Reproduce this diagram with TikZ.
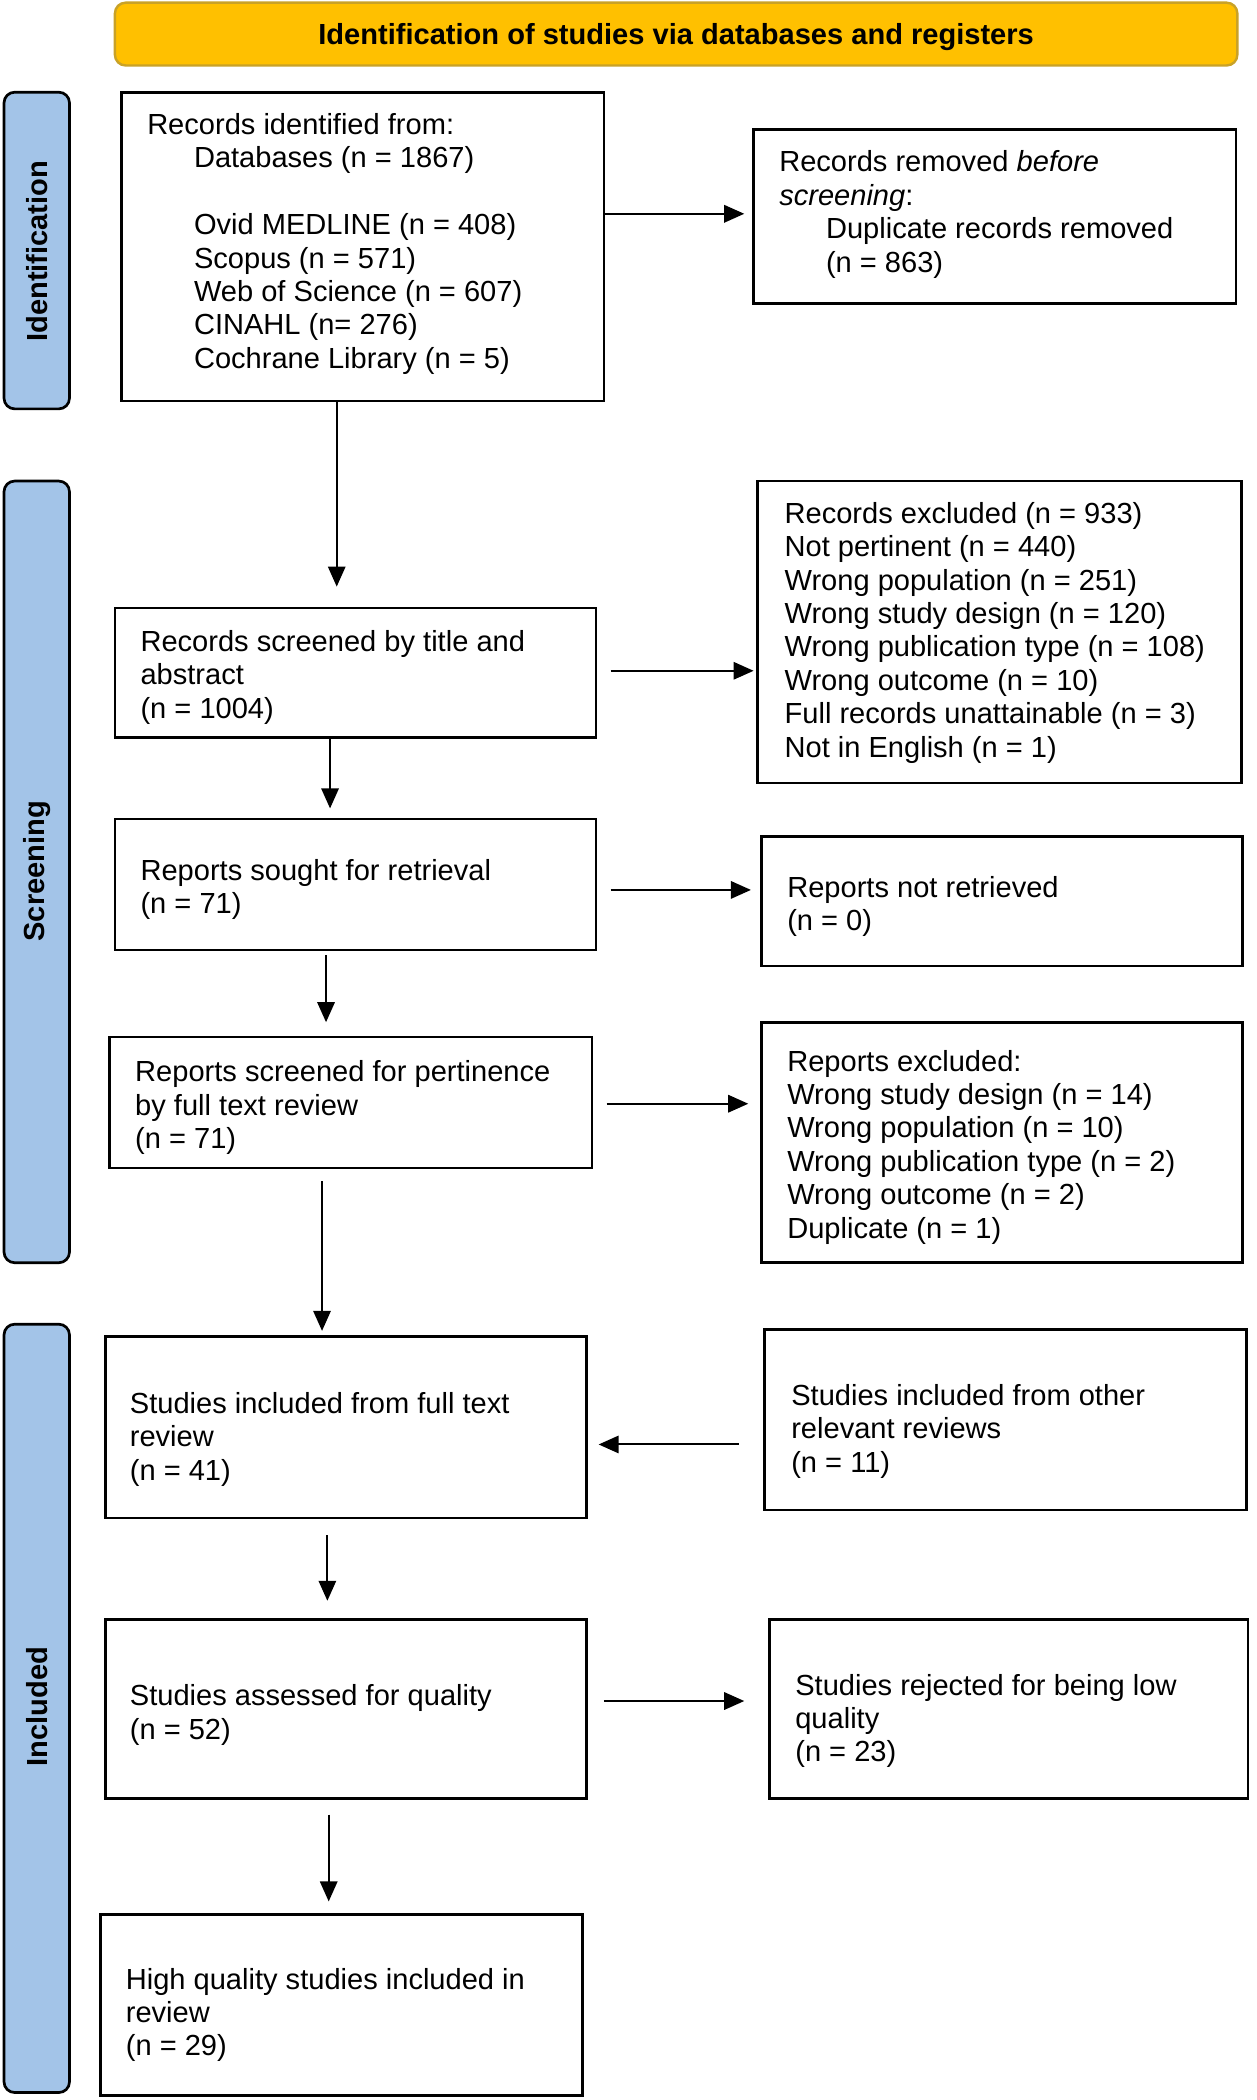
\documentclass[tikz,border=0pt]{standalone}
\usepackage{fontspec}
\setmainfont{Liberation Sans}
\usetikzlibrary{arrows.meta}
\definecolor{gold}{HTML}{FFC000}
\definecolor{golddark}{HTML}{C9A227}
\definecolor{sideblue}{HTML}{A3C4E8}
\begin{document}
\begin{tikzpicture}[x=1pt,y=-1pt,
  box/.style={draw=black, line width=2pt, fill=white, inner sep=0pt},
  txt/.style={inner sep=0pt, anchor=west, align=left, font=\fontsize{21.75}{25}\selectfont},
  side/.style={draw=black, line width=2pt, fill=sideblue, rounded corners=8pt, inner sep=0pt, minimum width=49pt},
  sidetxt/.style={rotate=90, font=\fontsize{21.75}{25}\selectfont\bfseries, inner sep=0pt},
  arr/.style={line width=1.5pt, -{Triangle[length=15pt,width=13pt]}}
]
\useasboundingbox (0,0) rectangle (940,1571.6);
% header
\node[draw=golddark, line width=1.8pt, fill=gold, rounded corners=8pt, minimum width=840pt, minimum height=47pt, inner sep=0pt] (head) at (506,25.5) {};
\node[font=\fontsize{21.75}{25}\selectfont\bfseries, inner sep=0pt] (headtxt) at (506,28) {Identification of studies via databases and registers};
% side bars
\node[side, minimum height=237pt] (sid) at (27.5,187.5) {};
\node[sidetxt] (sidt) at (27.5,188) {Identification};
\node[side, minimum height=585pt] (sscr) at (27.5,652.5) {};
\node[sidetxt] (sscrt) at (27.5,652) {Screening};
\node[side, minimum height=575pt] (sinc) at (27.5,1278.5) {};
\node[sidetxt] (sinct) at (27.5,1277) {Included};
% boxes
\node[box, minimum width=361pt, minimum height=231pt] (b1) at (271.5,184.5) {};
\node[box, minimum width=361pt, minimum height=130pt] (b2) at (744.5,162) {};
\node[box, minimum width=360pt, minimum height=97pt] (b3) at (266,503.5) {};
\node[box, minimum width=362pt, minimum height=226pt] (b4) at (748,473) {};
\node[box, minimum width=360pt, minimum height=98pt] (b5) at (266,662) {};
\node[box, minimum width=360pt, minimum height=97pt] (b6) at (750,674.5) {};
\node[box, minimum width=361pt, minimum height=98pt] (b7) at (262.5,825) {};
\node[box, minimum width=360pt, minimum height=180pt] (b8) at (750,855) {};
\node[box, minimum width=360pt, minimum height=136pt] (b9) at (259,1068) {};
\node[box, minimum width=361pt, minimum height=135pt] (b10) at (752.5,1062.5) {};
\node[box, minimum width=360pt, minimum height=134pt] (b11) at (259,1279) {};
\node[box, minimum width=358pt, minimum height=134pt] (b12) at (755,1279) {};
\node[box, minimum width=361pt, minimum height=135pt] (b13) at (255.5,1500.5) {};
% texts
\node[txt] (t1) at (110,182.5) {Records identified from:\\
\hspace*{35pt}Databases (n = 1867)\\[25pt]
\hspace*{35pt}Ovid MEDLINE (n = 408)\\
\hspace*{35pt}Scopus (n = 571)\\
\hspace*{35pt}Web of Science (n = 607)\\
\hspace*{35pt}CINAHL (n= 276)\\
\hspace*{35pt}Cochrane Library (n = 5)};
\node[txt] (t2) at (583,160.5) {Records removed \textit{before}\\
\textit{screening}:\\
\hspace*{35pt}Duplicate records removed\\
\hspace*{35pt}(n = 863)};
\node[txt] (t3) at (105,507) {Records screened by title and\\abstract\\(n = 1004)};
\node[txt] (t4) at (587,473.5) {Records excluded (n = 933)\\
Not pertinent (n = 440)\\
Wrong population (n = 251)\\
Wrong study design (n = 120)\\
Wrong publication type (n = 108)\\
Wrong outcome (n = 10)\\
Full records unattainable (n = 3)\\
Not in English (n = 1)};
\node[txt] (t5) at (105,665.5) {Reports sought for retrieval\\(n = 71)};
\node[txt] (t6) at (589,678.5) {Reports not retrieved\\(n = 0)};
\node[txt] (t7) at (101,829) {Reports screened for pertinence\\by full text review\\(n = 71)};
\node[txt] (t8) at (589,858.5) {Reports excluded:\\
Wrong study design (n = 14)\\
Wrong population (n = 10)\\
Wrong publication type (n = 2)\\
Wrong outcome (n = 2)\\
Duplicate (n = 1)};
\node[txt] (t9) at (97,1077) {Studies included from full text\\review\\(n = 41)};
\node[txt] (t10) at (592,1071) {Studies included from other\\relevant reviews\\(n = 11)};
\node[txt] (t11) at (97,1283.5) {Studies assessed for quality\\(n = 52)};
\node[txt] (t12) at (595,1288) {Studies rejected for being low\\quality\\(n = 23)};
\node[txt] (t13) at (94,1508) {High quality studies included in\\review\\(n = 29)};
% connectors
\draw[arr, shorten >=15pt] (b1.south -| 252,0) -- (b3.north -| 252,0);
\draw[arr, shorten >=6pt] (b1.east |- 0,160) -- (b2.west |- 0,160);
\draw[arr, shorten <=10pt, shorten >=2pt] (b3.east |- 0,502) -- (b4.west |- 0,502);
\draw[arr, shorten >=7pt] (b3.south -| 247,0) -- (b5.north -| 247,0);
\draw[arr, shorten <=10pt, shorten >=7pt] (b5.east |- 0,666) -- (b6.west |- 0,666);
\draw[arr, shorten <=3pt, shorten >=10pt] (b5.south -| 244,0) -- (b7.north -| 244,0);
\draw[arr, shorten <=10pt, shorten >=9pt] (b7.east |- 0,826) -- (b8.west |- 0,826);
\draw[arr, shorten <=9pt, shorten >=3pt] (b7.south -| 241,0) -- (b9.north -| 241,0);
\draw[arr, shorten <=18pt, shorten >=8pt] (b10.west |- 0,1081) -- (b9.east |- 0,1081);
\draw[arr, shorten <=12pt, shorten >=13pt] (b9.south -| 245,0) -- (b11.north -| 245,0);
\draw[arr, shorten <=12pt, shorten >=18pt] (b11.east |- 0,1273) -- (b12.west |- 0,1273);
\draw[arr, shorten <=11pt, shorten >=9pt] (b11.south -| 246,0) -- (b13.north -| 246,0);
\end{tikzpicture}
\end{document}
